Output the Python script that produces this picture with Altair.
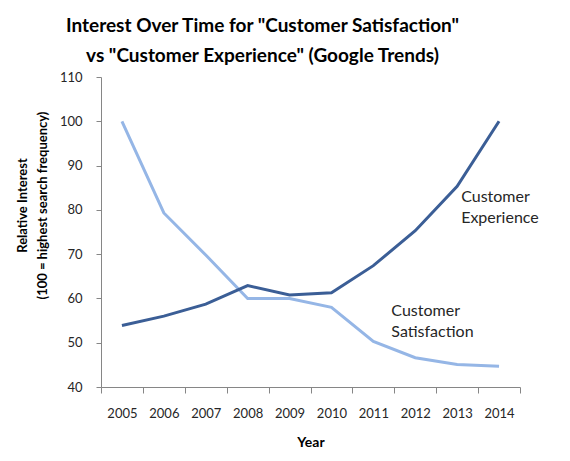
import altair as alt
import pandas as pd

years = ["2005", "2006", "2007", "2008", "2009", "2010", "2011", "2012", "2013", "2014"]
satisfaction = [100, 79.3, 69.8, 60, 60, 58, 50.3, 46.6, 45.1, 44.7]
experience = [53.9, 56, 58.7, 62.9, 60.8, 61.3, 67.4, 75.3, 85.3, 100]
y_ticks = [40, 50, 60, 70, 80, 90, 100, 110]

ann_labels = ["Customer\nExperience", "Customer\nSatisfaction"]
ann_years = ["2013", "2011"]
ann_values = [83, 57.1]

FONT = "Lato"
DARK = "#3B5E96"
LIGHT = "#95B6E6"

df = pd.DataFrame({
    "Year": years * 2,
    "Value": satisfaction + experience,
    "Series": ["Customer Satisfaction"] * len(years) + ["Customer Experience"] * len(years),
})
ann = pd.DataFrame({"Year": ann_years, "Value": ann_values, "Label": ann_labels})

x_enc = alt.X(
    "Year:O",
    sort=years,
    scale=alt.Scale(type="band", domain=years, paddingInner=0, paddingOuter=0),
    axis=alt.Axis(
        title="Year", labelAngle=0, tickBand="extent", tickSize=6,
        labelPadding=14, titlePadding=15,
        domainColor="#868686", tickColor="#868686",
        labelFont=FONT, labelFontSize=13, labelColor="#262626",
        titleFont=FONT, titleFontSize=14, titleFontWeight="bold", titleColor="#000000",
    ),
)
y_enc = alt.Y(
    "Value:Q",
    scale=alt.Scale(domain=[40, 110], nice=False, zero=False),
    axis=alt.Axis(
        title=["Relative Interest", "(100 = highest search frequency)"],
        values=y_ticks, tickSize=5, labelPadding=14, grid=False,
        domainColor="#868686", tickColor="#868686",
        labelFont=FONT, labelFontSize=13, labelColor="#262626",
        titleFont=FONT, titleFontSize=13, titleFontWeight="bold", titleColor="#000000",
        titlePadding=10, titleLineHeight=20, titleY=128,
    ),
)

lines = alt.Chart(df).mark_line(strokeWidth=3).encode(
    x=x_enc,
    y=y_enc,
    color=alt.Color(
        "Series:N",
        scale=alt.Scale(domain=["Customer Satisfaction", "Customer Experience"], range=[LIGHT, DARK]),
        legend=None,
    ),
)

text_exp = alt.Chart(ann.iloc[[0]]).mark_text(
    align="left", baseline="middle", dx=4, font=FONT, fontSize=16,
    color="#262626", lineBreak="\n", lineHeight=21,
).encode(x=alt.X("Year:O", sort=years), y="Value:Q", text="Label:N")

text_sat = alt.Chart(ann.iloc[[1]]).mark_text(
    align="left", baseline="middle", dx=18, font=FONT, fontSize=16,
    color="#262626", lineBreak="\n", lineHeight=21,
).encode(x=alt.X("Year:O", sort=years), y="Value:Q", text="Label:N")

chart = alt.layer(lines, text_exp, text_sat).properties(
    width=419,
    height=310,
    title=alt.TitleParams(
        text=['Interest Over Time for "Customer Satisfaction"', 'vs "Customer Experience" (Google Trends)'],
        font=FONT, fontSize=19, fontWeight="bold", color="#000000",
        anchor="middle", frame="group", dx=-48, offset=5, lineHeight=30,
    ),
    autosize=alt.AutoSizeParams(type="none"),
    padding={"left": 93, "top": 69, "right": 40, "bottom": 66},
).configure_view(stroke=None)

chart.save("out.html", embed_options={"renderer": "svg", "actions": False})
